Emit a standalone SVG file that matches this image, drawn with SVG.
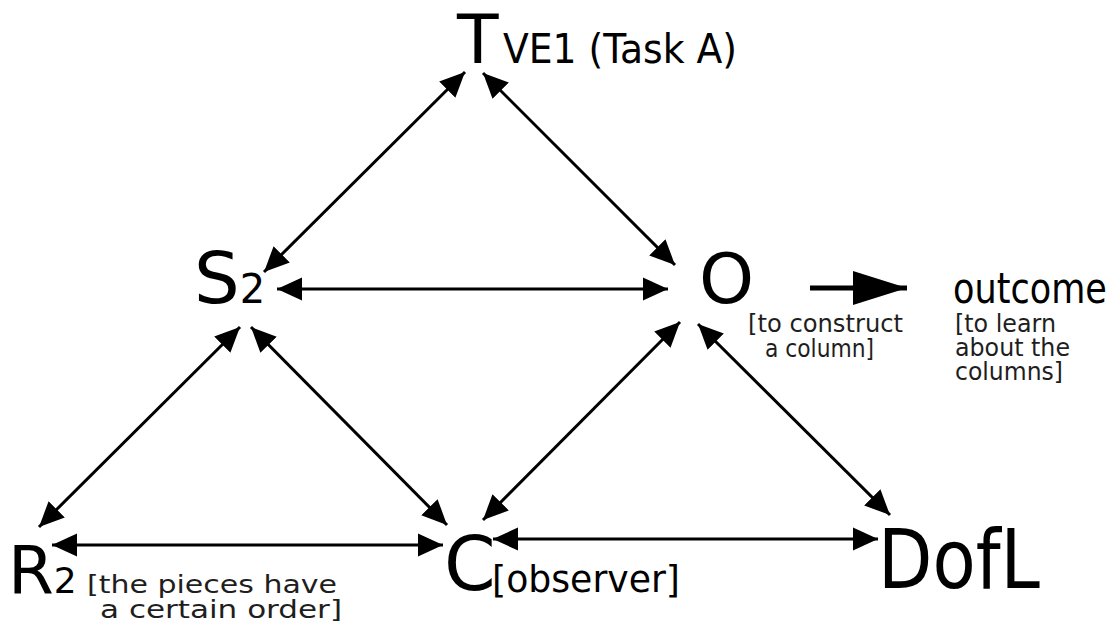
<svg xmlns="http://www.w3.org/2000/svg" width="1117" height="624" viewBox="0 0 1117 624">
  <style>
    text { font-family: "DejaVu Sans", "Liberation Sans", sans-serif; fill: #000; }
    .note { font-size: 24px; fill: #1e1e1e; }
    .link { stroke: #000; stroke-width: 3; fill: none; marker-start: url(#head); marker-end: url(#head); }
  </style>
  <defs>
    <marker id="head" markerUnits="userSpaceOnUse" markerWidth="27" markerHeight="25" viewBox="0 0 27 25" refX="25" refY="12.5" orient="auto-start-reverse">
      <path d="M0,1 L25,12.5 L0,24 Z" fill="#000"/>
    </marker>
    <marker id="bighead" markerUnits="userSpaceOnUse" markerWidth="56" markerHeight="36" viewBox="0 0 56 36" refX="54" refY="18" orient="auto">
      <path d="M0,1 L54,18 L0,35 Z" fill="#000"/>
    </marker>
  </defs>

  <!-- connectors -->
  <g id="connectors">
    <line class="link" x1="465" y1="72" x2="264" y2="272"/>
    <line class="link" x1="483" y1="73" x2="675" y2="265"/>
    <line class="link" x1="277" y1="289" x2="668" y2="289"/>
    <line class="link" x1="240" y1="327" x2="39" y2="527"/>
    <line class="link" x1="251" y1="327" x2="447" y2="525"/>
    <line class="link" x1="52" y1="545" x2="443" y2="545"/>
    <line class="link" x1="680" y1="322" x2="483" y2="520"/>
    <line class="link" x1="493" y1="539" x2="878" y2="539"/>
    <line class="link" x1="698" y1="324" x2="890" y2="515"/>
    <line x1="810" y1="288" x2="907" y2="288" stroke="#000" stroke-width="5" marker-end="url(#bighead)"/>
  </g>

  <!-- nodes -->
  <g id="node-T">
    <text x="457" y="63" font-size="68">T</text>
    <text x="503" y="63" font-size="40" textLength="234" lengthAdjust="spacingAndGlyphs">VE1 (Task A)</text>
  </g>

  <g id="node-S2">
    <text x="194" y="303" font-size="72">S<tspan font-size="40">2</tspan></text>
  </g>

  <g id="node-O">
    <text x="699" y="303" font-size="70">O</text>
    <text class="note" x="748" y="332" textLength="155" lengthAdjust="spacingAndGlyphs">[to construct</text>
    <text class="note" x="765" y="357" textLength="109" lengthAdjust="spacingAndGlyphs">a column]</text>
  </g>

  <g id="node-outcome">
    <!-- narrowed horizontally so the word ends inside the canvas -->
    <text transform="translate(953,303) scale(0.835,1)" font-size="42">outcome</text>
    <text class="note" x="955" y="332" textLength="101" lengthAdjust="spacingAndGlyphs">[to learn</text>
    <text class="note" x="955" y="356" textLength="115" lengthAdjust="spacingAndGlyphs">about the</text>
    <text class="note" x="955" y="380" textLength="108" lengthAdjust="spacingAndGlyphs">columns]</text>
  </g>

  <g id="node-R2">
    <text x="8" y="593" font-size="66">R<tspan font-size="36">2</tspan></text>
    <text class="note" x="87" y="593" textLength="250" lengthAdjust="spacingAndGlyphs">[the pieces have</text>
    <text class="note" x="100" y="618" textLength="242" lengthAdjust="spacingAndGlyphs">a certain order]</text>
  </g>

  <g id="node-C">
    <text x="444" y="590" font-size="74">C</text>
    <text x="492" y="592" font-size="38" fill="#1e1e1e" textLength="188" lengthAdjust="spacingAndGlyphs">[observer]</text>
  </g>

  <g id="node-DofL">
    <text x="878" y="588" font-size="82" textLength="162" lengthAdjust="spacingAndGlyphs">DofL</text>
  </g>
</svg>
